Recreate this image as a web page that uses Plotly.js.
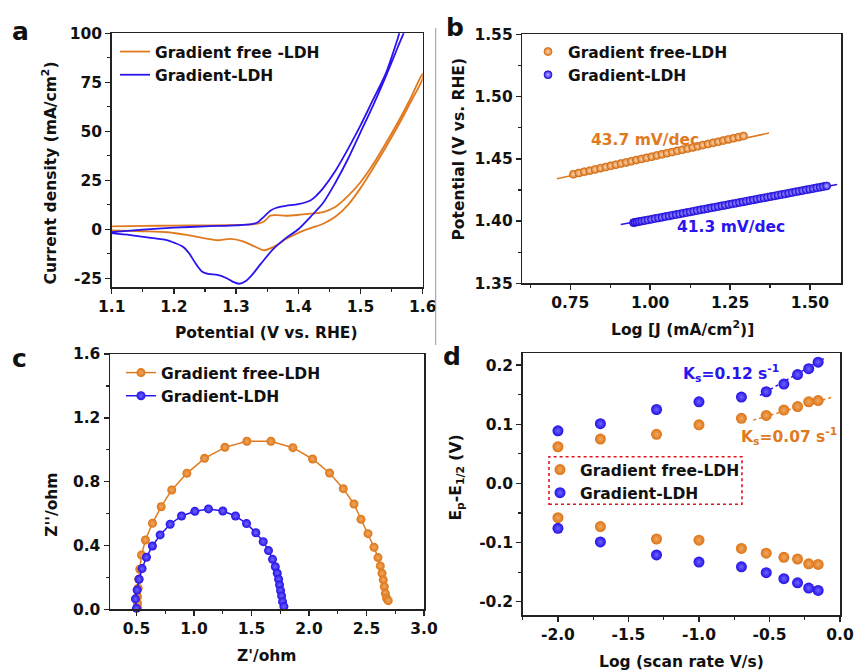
<!DOCTYPE html>
<html><head><meta charset="utf-8">
<script src="https://cdn.plot.ly/plotly-3.0.1.min.js"></script>
<style>html,body{margin:0;padding:0;background:#fff}#chart{width:855px;height:672px}</style>
</head><body><div id="chart"></div>
<script>
// ---------- Panel a : CV curves (closed loops: forward then reverse) ----------
const aFreeV = [1.10,1.15,1.20,1.25,1.30,1.33,1.345,1.355,1.365,1.38,1.40,1.42,1.44,1.46,1.48,1.50,1.52,1.54,1.56,1.58,1.60,
                1.60,1.58,1.56,1.54,1.52,1.50,1.48,1.46,1.44,1.42,1.40,1.38,1.365,1.345,1.33,1.31,1.29,1.27,1.25,1.22,1.19,1.15,1.10];
const aFreeJ = [1.5,1.7,1.9,2.0,2.2,2.6,4.0,7.0,7.2,6.9,7.3,8.0,8.8,11.5,17.0,24.0,33.0,43.5,54.5,66.5,79.5,
                77.0,64.5,52.5,41.5,31.0,21.0,12.5,6.5,2.8,0.6,-1.8,-5.0,-8.2,-10.7,-8.8,-6.0,-4.9,-5.6,-4.6,-2.8,-1.5,-1.0,-0.6];
const aGradV = [1.10,1.15,1.20,1.25,1.30,1.325,1.335,1.345,1.355,1.365,1.38,1.40,1.42,1.43,1.44,1.46,1.48,1.50,1.52,1.54,1.56,1.57,
                1.575,1.56,1.54,1.52,1.50,1.48,1.46,1.44,1.42,1.40,1.38,1.36,1.34,1.325,1.315,1.305,1.295,1.285,1.27,1.255,1.245,1.235,1.225,1.215,1.20,1.19,1.16,1.13,1.10];
const aGradJ = [-1.4,-0.2,0.8,1.5,2.0,2.6,3.6,6.5,9.5,11.0,12.0,12.8,14.8,17.5,21.0,30.0,41.0,53.0,66.0,79.0,97.5,108,
                106,93.0,77.5,63.0,49.5,36.0,24.0,13.5,6.5,0.0,-4.5,-10.0,-17.5,-23.5,-26.5,-27.8,-26.8,-25.0,-23.3,-22.8,-21.5,-17.5,-12.5,-9.0,-6.8,-5.6,-4.2,-3.0,-2.0];
const aXTicks = [1.1,1.2,1.3,1.4,1.5,1.6];
const aXLabels = ['1.1','1.2','1.3','1.4','1.5','1.6'];
const aYTicks = [-25,0,25,50,75,100];
const aYLabels = ['-25','0','25','50','75','100'];

// ---------- Panel b : Tafel ----------
const bFreeX = [0.760,0.777,0.794,0.811,0.828,0.845,0.861,0.877,0.893,0.909,0.925,0.941,0.957,0.973,0.989,1.005,1.021,1.037,1.053,1.069,1.085,1.101,1.117,1.133,1.149,1.165,1.181,1.197,1.213,1.229,1.245,1.261,1.277,1.292];
const bFreeY = [1.4376,1.4386,1.4396,1.4405,1.4415,1.4425,1.4434,1.4444,1.4453,1.4462,1.4471,1.4480,1.4490,1.4499,1.4508,1.4517,1.4527,1.4536,1.4545,1.4554,1.4564,1.4573,1.4582,1.4591,1.4600,1.4610,1.4619,1.4628,1.4637,1.4647,1.4656,1.4665,1.4674,1.4683];
const bGradX = [0.948,0.953,0.959,0.966,0.974,0.983,0.993,1.004,1.015,1.026,1.037,1.048,1.059,1.070,1.081,1.092,1.103,1.114,1.125,1.136,1.147,1.158,1.169,1.180,1.191,1.202,1.213,1.224,1.235,1.246,1.257,1.268,1.279,1.290,1.301,1.312,1.323,1.334,1.345,1.356,1.367,1.378,1.389,1.400,1.411,1.422,1.433,1.444,1.455,1.466,1.477,1.488,1.499,1.510,1.521,1.532,1.542,1.552];
const bGradY = [1.3987,1.3990,1.3993,1.3996,1.4000,1.4004,1.4009,1.4014,1.4020,1.4025,1.4030,1.4036,1.4041,1.4047,1.4052,1.4057,1.4063,1.4068,1.4073,1.4079,1.4084,1.4090,1.4095,1.4100,1.4106,1.4111,1.4116,1.4122,1.4127,1.4133,1.4138,1.4143,1.4149,1.4154,1.4159,1.4165,1.4170,1.4176,1.4181,1.4186,1.4192,1.4197,1.4202,1.4208,1.4213,1.4218,1.4224,1.4229,1.4235,1.4240,1.4245,1.4251,1.4256,1.4261,1.4267,1.4272,1.4277,1.4282];
const bFreeFitX = [0.708,1.372];
const bFreeFitY = [1.434,1.4707];
const bGradFitX = [0.908,1.585];
const bGradFitY = [1.3973,1.4293];
const bXTicks = [0.75,1.00,1.25,1.50];
const bXLabels = ['0.75','1.00','1.25','1.50'];
const bYTicks = [1.35,1.40,1.45,1.50,1.55];
const bYLabels = ['1.35','1.40','1.45','1.50','1.55'];

// ---------- Panel c : Nyquist ----------
const cFreeRe = [0.510,0.509,0.509,0.515,0.520,0.529,0.544,0.578,0.639,0.715,0.807,0.938,1.092,1.269,1.460,1.669,1.860,2.031,2.179,2.298,2.391,2.452,2.513,2.565,2.600,2.620,2.635,2.646,2.655,2.664,2.675,2.689];
const cFreeIm = [0.010,0.038,0.079,0.132,0.188,0.251,0.340,0.434,0.539,0.643,0.748,0.852,0.946,1.015,1.053,1.053,1.013,0.942,0.854,0.756,0.660,0.564,0.474,0.389,0.324,0.272,0.226,0.184,0.142,0.100,0.069,0.054];
const cGradRe = [0.500,0.491,0.506,0.523,0.549,0.587,0.639,0.706,0.793,0.892,1.008,1.126,1.251,1.361,1.457,1.538,1.602,1.648,1.683,1.707,1.724,1.736,1.744,1.753,1.762,1.770,1.782];
const cGradIm = [0.006,0.065,0.121,0.188,0.255,0.326,0.397,0.466,0.533,0.585,0.614,0.629,0.616,0.585,0.537,0.480,0.424,0.368,0.313,0.267,0.226,0.188,0.152,0.117,0.084,0.048,0.017];
const cXTicks = [0.5,1.0,1.5,2.0,2.5,3.0];
const cXLabels = ['0.5','1.0','1.5','2.0','2.5','3.0'];
const cYTicks = [0,0.4,0.8,1.2,1.6];
const cYLabels = ['0.0','0.4','0.8','1.2','1.6'];

// ---------- Panel d : peak separation ----------
const dLogRate = [-2.0,-1.699,-1.301,-1.0,-0.699,-0.523,-0.398,-0.301,-0.222,-0.155];
const dFreeOx  = [0.062,0.075,0.083,0.099,0.110,0.115,0.124,0.130,0.138,0.140];
const dFreeRed = [-0.058,-0.073,-0.094,-0.096,-0.110,-0.118,-0.125,-0.128,-0.136,-0.137];
const dGradOx  = [0.089,0.101,0.125,0.138,0.146,0.155,0.168,0.184,0.194,0.205];
const dGradRed = [-0.076,-0.099,-0.121,-0.133,-0.141,-0.151,-0.161,-0.168,-0.177,-0.181];
const dGradFitX = [-0.568,-0.115];
const dGradFitY = [0.149,0.211];
const dFreeFitX = [-0.615,-0.052];
const dFreeFitY = [0.107,0.146];
const dXTicks = [-2.0,-1.5,-1.0,-0.5,0.0];
const dXLabels = ['-2.0','-1.5','-1.0','-0.5','0.0'];
const dYTicks = [-0.2,-0.1,0.0,0.1,0.2];
const dYLabels = ['-0.2','-0.1','0.0','0.1','0.2'];

const ORANGE = '#E07A1F';
const BLUE = '#2A14F0';
const FONT = 'DejaVu Sans, Arial, sans-serif';
const FS = 15.5;

const sphereO = (s) => ({color: '#DC7415', size: s, line: {width: 0}, gradient: {type: 'radial', color: '#F2A862'}});
const sphereB = (s) => ({color: '#2410E6', size: s, line: {width: 0}, gradient: {type: 'radial', color: '#6E64FF'}});

const traces = [
  // a
  {x: aFreeV, y: aFreeJ, xaxis: 'x', yaxis: 'y', mode: 'lines', name: 'Gradient free -LDH', legend: 'legend',
   line: {color: ORANGE, width: 1.8, shape: 'spline', smoothing: 0.8}},
  {x: aGradV, y: aGradJ, xaxis: 'x', yaxis: 'y', mode: 'lines', name: 'Gradient-LDH', legend: 'legend',
   line: {color: BLUE, width: 1.8, shape: 'spline', smoothing: 0.8}},
  // b
  {x: bFreeFitX, y: bFreeFitY, xaxis: 'x2', yaxis: 'y2', mode: 'lines', showlegend: false, line: {color: ORANGE, width: 1.5}},
  {x: bGradFitX, y: bGradFitY, xaxis: 'x2', yaxis: 'y2', mode: 'lines', showlegend: false, line: {color: BLUE, width: 1.5}},
  {x: bFreeX, y: bFreeY, xaxis: 'x2', yaxis: 'y2', mode: 'markers', name: 'Gradient free-LDH', legend: 'legend2',
   marker: {color: ORANGE, size: 8, line: {width: 0.7, color: '#C8620A'}, gradient: {type: 'radial', color: '#F9D6B4'}}},
  {x: bGradX, y: bGradY, xaxis: 'x2', yaxis: 'y2', mode: 'markers', name: 'Gradient-LDH', legend: 'legend2',
   marker: {color: BLUE, size: 8, line: {width: 0.7, color: '#1A08C8'}, gradient: {type: 'radial', color: '#BDB8FF'}}},
  // c
  {x: cFreeRe, y: cFreeIm, xaxis: 'x3', yaxis: 'y3', mode: 'lines+markers', name: 'Gradient free-LDH', legend: 'legend3',
   cliponaxis: false, line: {color: ORANGE, width: 1.5}, marker: sphereO(9)},
  {x: cGradRe, y: cGradIm, xaxis: 'x3', yaxis: 'y3', mode: 'lines+markers', name: 'Gradient-LDH', legend: 'legend3',
   cliponaxis: false, line: {color: BLUE, width: 1.5}, marker: sphereB(9)},
  // d
  {x: dGradFitX, y: dGradFitY, xaxis: 'x4', yaxis: 'y4', mode: 'lines', showlegend: false, line: {color: BLUE, width: 1.5, dash: 'dot'}},
  {x: dFreeFitX, y: dFreeFitY, xaxis: 'x4', yaxis: 'y4', mode: 'lines', showlegend: false, line: {color: ORANGE, width: 1.5, dash: 'dot'}},
  {x: dLogRate, y: dFreeOx, xaxis: 'x4', yaxis: 'y4', mode: 'markers', name: 'Gradient free-LDH', legend: 'legend4', legendgroup: 'f',
   marker: sphereO(11)},
  {x: dLogRate, y: dFreeRed, xaxis: 'x4', yaxis: 'y4', mode: 'markers', showlegend: false, legendgroup: 'f', marker: sphereO(11)},
  {x: dLogRate, y: dGradOx, xaxis: 'x4', yaxis: 'y4', mode: 'markers', name: 'Gradient-LDH', legend: 'legend4', legendgroup: 'g',
   marker: sphereB(11)},
  {x: dLogRate, y: dGradRed, xaxis: 'x4', yaxis: 'y4', mode: 'markers', showlegend: false, legendgroup: 'g', marker: sphereB(11)}
];

const tickFont = {family: FONT, size: FS, color: '#111', weight: 'bold'};
function ax(extra) {
  return Object.assign({
    showline: true, linecolor: '#222', linewidth: 1.5, mirror: true,
    ticks: 'outside', ticklen: 5, tickwidth: 1.5, tickcolor: '#222',
    showgrid: false, zeroline: false, tickfont: tickFont, tickmode: 'array', fixedrange: true
  }, extra);
}
function minor(d) { return {ticks: 'outside', ticklen: 3, tickwidth: 1.2, tickcolor: '#222', dtick: d, tick0: 0, showgrid: false}; }

const W = 855, H = 672;
const px = v => v / W, py = v => 1 - v / H;

const legendBase = {font: {family: FONT, size: FS, color: '#111', weight: 'bold'}, bgcolor: 'rgba(0,0,0,0)',
  borderwidth: 0, xanchor: 'left', yanchor: 'top', traceorder: 'normal', tracegroupgap: 0};

const titleFont = {family: FONT, size: FS, color: '#111', weight: 'bold'};
function ann(text, x, y, extra) {
  return Object.assign({text: text, x: px(x), y: py(y), xref: 'paper', yref: 'paper', showarrow: false,
    xanchor: 'center', yanchor: 'middle', font: titleFont}, extra || {});
}

const layout = {
  width: W, height: H, margin: {l: 0, r: 0, t: 0, b: 0},
  paper_bgcolor: '#fff', plot_bgcolor: '#fff', showlegend: true,
  font: {family: FONT, size: FS, color: '#111', weight: 'bold'},
  xaxis: ax({domain: [px(111.7), px(422.7)], anchor: 'y', range: [1.1, 1.6], tickvals: aXTicks, ticktext: aXLabels, minor: minor(0.05)}),
  yaxis: ax({domain: [py(287.3), py(33.3)], anchor: 'x', range: [-29.6, 100], tickvals: aYTicks, ticktext: aYLabels, minor: minor(12.5)}),
  xaxis2: ax({domain: [px(522.3), px(841)], anchor: 'y2', range: [0.6, 1.597], tickvals: bXTicks, ticktext: bXLabels, minor: minor(0.125)}),
  yaxis2: ax({domain: [py(283.3), py(34.3)], anchor: 'x2', range: [1.35, 1.55], tickvals: bYTicks, ticktext: bYLabels, minor: minor(0.025)}),
  xaxis3: ax({domain: [px(110), px(424)], anchor: 'y3', range: [0.27, 3.0], tickvals: cXTicks, ticktext: cXLabels, minor: minor(0.25)}),
  yaxis3: ax({domain: [py(609.3), py(354)], anchor: 'x3', range: [0, 1.6], tickvals: cYTicks, ticktext: cYLabels, minor: minor(0.2)}),
  xaxis4: ax({domain: [px(522.7), px(840)], anchor: 'y4', range: [-2.25, 0], tickvals: dXTicks, ticktext: dXLabels, minor: minor(0.25)}),
  yaxis4: ax({domain: [py(615.3), py(353.3)], anchor: 'x4', range: [-0.223, 0.22], tickvals: dYTicks, ticktext: dYLabels, minor: minor(0.05)}),
  legend: Object.assign({}, legendBase, {x: px(115), y: py(35)}),
  legend2: Object.assign({}, legendBase, {x: px(528), y: py(35)}),
  legend3: Object.assign({}, legendBase, {x: px(121), y: py(356)}),
  legend4: Object.assign({}, legendBase, {x: px(540), y: py(453)}),
  shapes: [
    {type: 'line', xref: 'paper', yref: 'paper', x0: px(435.7), x1: px(435.7), y0: py(28), y1: py(345), line: {color: '#999', width: 1}},
    {type: 'rect', xref: 'paper', yref: 'paper', x0: px(549), x1: px(742), y0: py(504.3), y1: py(456.7), line: {color: '#E0141E', width: 1.6, dash: 'dot'}}
  ],
  annotations: [
    ann('a', 20, 31.4, {font: Object.assign({}, titleFont, {size: 25})}),
    ann('b', 455, 28, {font: Object.assign({}, titleFont, {size: 25})}),
    ann('c', 19.5, 358.4, {font: Object.assign({}, titleFont, {size: 25})}),
    ann('d', 451.5, 356.4, {font: Object.assign({}, titleFont, {size: 25})}),
    ann('Current density (mA/cm<sup>2</sup>)', 50, 173.5, {textangle: -90}),
    ann('Potential (V vs. RHE)', 266.5, 333),
    ann('Potential (V vs. RHE)', 458.5, 149, {textangle: -90}),
    ann('Log [J (mA/cm<sup>2</sup>)]', 682.5, 328),
    ann("Z''/ohm", 51.7, 505, {textangle: -90}),
    ann("Z'/ohm", 266, 655.5),
    ann('E<sub>p</sub>-E<sub>1/2</sub> (V)', 456.5, 478, {textangle: -90}),
    ann('Log (scan rate V/s)', 681.7, 662),
    {text: '43.7 mV/dec', x: 0.984, y: 1.465, xref: 'x2', yref: 'y2', showarrow: false, font: Object.assign({}, titleFont, {color: ORANGE})},
    {text: '41.3 mV/dec', x: 1.2525, y: 1.3952, xref: 'x2', yref: 'y2', showarrow: false, font: Object.assign({}, titleFont, {color: BLUE})},
    {text: 'K<sub>s</sub>=0.12 s<sup>-1</sup>', x: -0.77, y: 0.186, xref: 'x4', yref: 'y4', showarrow: false, font: Object.assign({}, titleFont, {color: BLUE})},
    {text: 'K<sub>s</sub>=0.07 s<sup>-1</sup>', x: -0.364, y: 0.079, xref: 'x4', yref: 'y4', showarrow: false, font: Object.assign({}, titleFont, {color: ORANGE})}
  ]
};

Plotly.newPlot('chart', traces, layout, {displayModeBar: false, staticPlot: true});
</script>
</body></html>
